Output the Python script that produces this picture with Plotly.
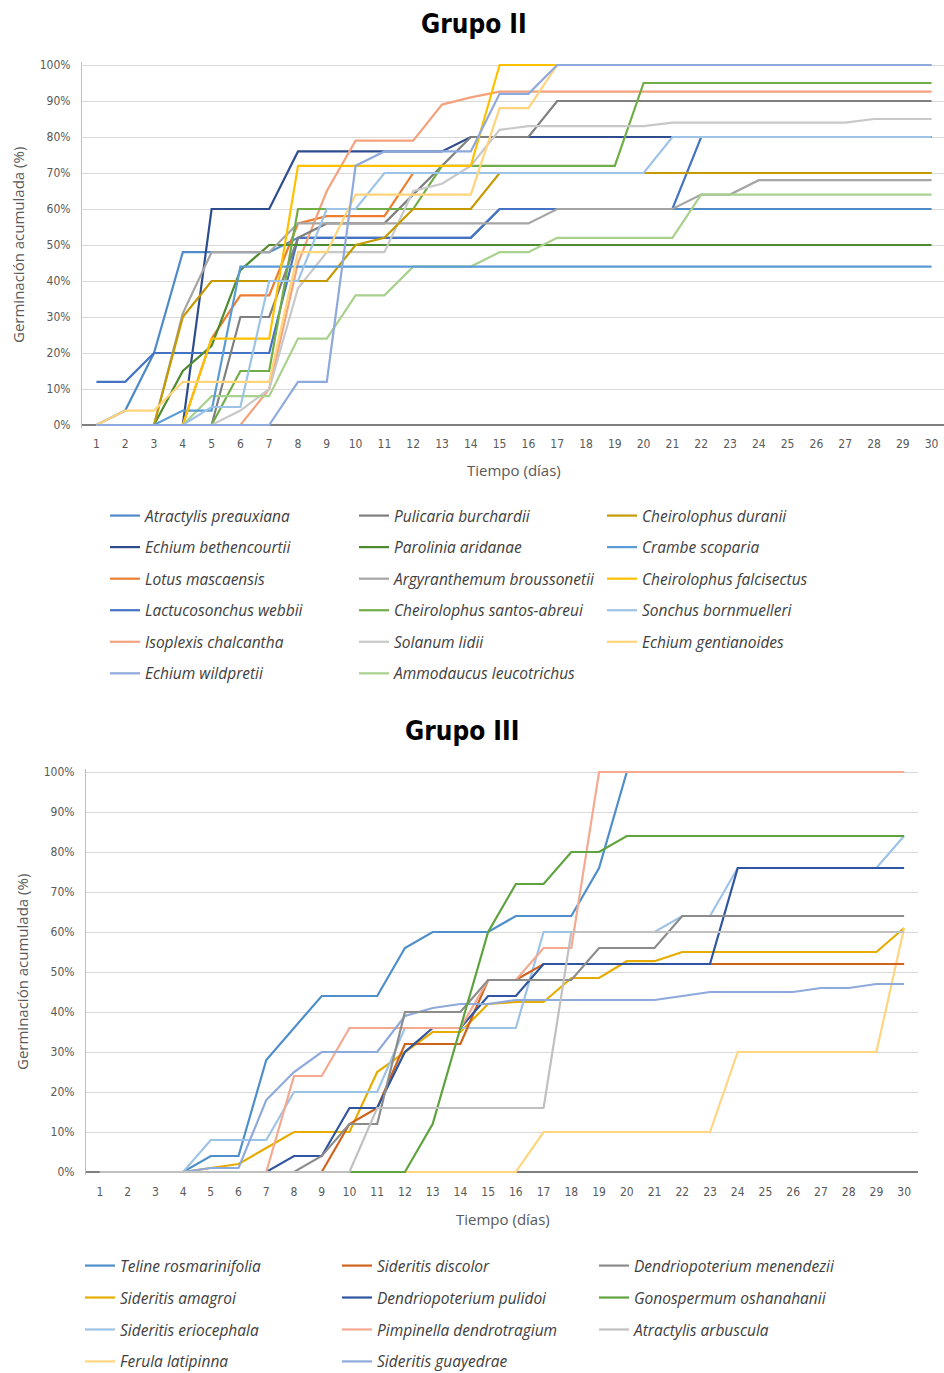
import plotly.graph_objects as go

W, H = 944, 1373
OFF = 0  # body margin removed via post_script
days = list(range(1, 31))

# ---------------- Grupo II data (% cumulative germination, days 1..30) ----------------
atractylis_preauxiana = [0,4,20,48,48,48,48,52,52,52,52,52,52,52,60] + [60]*15
echium_bethencourtii = [0,0,0,0,60,60,60,76,76,76,76,76,76,80] + [80]*16
lotus_mascaensis = [0,0,0,0,24,36,36,56,58,58,58] + [70]*19
lactucosonchus_webbii = [12,12,20,20,20,20,20,52,52,52,52,52,52,52,60,60,60,60,60,60,60] + [80]*9
isoplexis_chalcantha = [0,0,0,0,0,0,10,45,65,79,79,79,89,91] + [92.6]*16
echium_wildpretii = [0,0,0,0,0,0,0,12,12,72,76,76,76,76,92,92] + [100]*14
pulicaria_burchardii = [0,0,0,0,0,30,30,52,56,56,56,64,72,80,80,80] + [90]*14
parolinia_aridanae = [0,0,0,15,22,43,50] + [50]*23
argyranthemum_broussonetii = [0,0,0,31,48,48,48,56,56,56,56,56,56,56,56,56,60,60,60,60,60,64,64] + [68]*7
cheirolophus_santos_abreui = [0,0,0,0,0,15,15,60,60,60,60,60,72,72,72,72,72,72,72] + [95]*11
solanum_lidii = [0,0,0,0,0,4,10,38,48,48,48,65,67,72,82,83,83,83,83,83] + [84]*7 + [85]*3
ammodaucus_leucotrichus = [0,0,0,0,8,8,8,24,24,36,36,44,44,44,48,48,52,52,52,52,52] + [64]*9
cheirolophus_duranii = [0,0,0,30,40,40,40,40,40,50,52,60,60,60] + [70]*16
crambe_scoparia = [0,0,0,4,4] + [44]*25
cheirolophus_falcisectus = [0,0,0,0,24,24,24,72,72,72,72,72,72,72] + [100]*16
sonchus_bornmuelleri = [0,0,0,0,5,5,40,40,60,60] + [70]*10 + [80]*10
echium_gentianoides = [0,4,4,12,12,12,12,48,48,64,64,64,64,64,88,88] + [100]*14

g2_names = ["Atractylis preauxiana", "Echium bethencourtii", "Lotus mascaensis",
            "Lactucosonchus webbii", "Isoplexis chalcantha", "Echium wildpretii",
            "Pulicaria burchardii", "Parolinia aridanae", "Argyranthemum broussonetii",
            "Cheirolophus santos-abreui", "Solanum lidii", "Ammodaucus leucotrichus",
            "Cheirolophus duranii", "Crambe scoparia", "Cheirolophus falcisectus",
            "Sonchus bornmuelleri", "Echium gentianoides"]
g2_values = [atractylis_preauxiana, echium_bethencourtii, lotus_mascaensis,
             lactucosonchus_webbii, isoplexis_chalcantha, echium_wildpretii,
             pulicaria_burchardii, parolinia_aridanae, argyranthemum_broussonetii,
             cheirolophus_santos_abreui, solanum_lidii, ammodaucus_leucotrichus,
             cheirolophus_duranii, crambe_scoparia, cheirolophus_falcisectus,
             sonchus_bornmuelleri, echium_gentianoides]
g2_colors = ["#4F8BC9", "#2E4D8F", "#ED7D31", "#4472C4", "#F4A27E", "#8EA9DB",
             "#7F7F7F", "#4E8A2E", "#A5A5A5", "#70AD47", "#C8C8C8", "#A9D18E",
             "#C49A00", "#5B9BD5", "#FFC000", "#9DC3E6", "#FFD47A"]
g2_draw_order = [0, 1, 2, 3, 4, 6, 7, 8, 9, 10, 11, 12, 13, 14, 15, 16, 5]

# ---------------- Grupo III data ----------------
teline_rosmarinifolia = [0,0,0,0,4,4,28,36,44,44,44,56,60,60,60,64,64,64,76] + [100]*11
sideritis_amagroi = [0,0,0,0,1,2,6,10,10,10,25,30,35,35,42,42.5,42.5,48.5,48.5,52.7,52.7] + [55]*8 + [61]
sideritis_eriocephala = [0,0,0,0,8,8,8,20,20,20,20,36,36,36,36,36,60,60,60,60,60,64,64] + [76]*6 + [84]
ferula_latipinna = [0]*16 + [10]*7 + [30]*6 + [61]
sideritis_discolor = [0]*9 + [12,16,32,32,32,48,48] + [52]*14
dendriopoterium_pulidoi = [0,0,0,0,0,0,0,4,4,16,16,30,36,36,44,44] + [52]*7 + [76]*7
pimpinella_dendrotragium = [0]*7 + [24,24,36,36,36,36,36,48,48,56,56] + [100]*12
sideritis_guayedrae = [0,0,0,0,1,1,18,25,30,30,30,39,41,42,42,43,43,43,43,43,43,44,45,45,45,45,46,46,47,47]
dendriopoterium_menendezii = [0]*8 + [4,12,12,40,40,40,48,48,48,48,56,56,56] + [64]*9
gonospermum_oshanahanii = [0]*12 + [12,36,60,72,72,80,80] + [84]*11
atractylis_arbuscula = [0]*10 + [16]*7 + [60]*13

g3_names = ["Teline rosmarinifolia", "Sideritis amagroi", "Sideritis eriocephala",
            "Ferula latipinna", "Sideritis discolor", "Dendriopoterium pulidoi",
            "Pimpinella dendrotragium", "Sideritis guayedrae", "Dendriopoterium menendezii",
            "Gonospermum oshanahanii", "Atractylis arbuscula"]
g3_values = [teline_rosmarinifolia, sideritis_amagroi, sideritis_eriocephala,
             ferula_latipinna, sideritis_discolor, dendriopoterium_pulidoi,
             pimpinella_dendrotragium, sideritis_guayedrae, dendriopoterium_menendezii,
             gonospermum_oshanahanii, atractylis_arbuscula]
g3_colors = ["#4E8FCB", "#E6AC00", "#9DC3E6", "#FFD580", "#D0631B", "#2F55A0",
             "#F4A990", "#8EA9DB", "#8C8C8C", "#5FA33E", "#C0C0C0"]

y_ticks = list(range(0, 101, 10))
y_ticktext = [f"{v}%" for v in y_ticks]

TICKFONT = "DejaVu Sans Condensed, Open Sans, sans-serif"
TXTFONT = "Open Sans, DejaVu Sans, sans-serif"
TXT = "#595959"

fig = go.Figure()

for i in g2_draw_order:
    n, v, c = g2_names[i], g2_values[i], g2_colors[i]
    leg = ["legend", "legend2", "legend3"][i // 6]
    fig.add_trace(go.Scatter(x=days, y=v, name=n, mode="lines",
                             line=dict(color=c, width=2.2), legendrank=i + 1,
                             xaxis="x", yaxis="y", legend=leg, legendgroup=n))
for i, (n, v, c) in enumerate(zip(g3_names, g3_values, g3_colors)):
    leg = ["legend4", "legend5", "legend6"][i // 4]
    fig.add_trace(go.Scatter(x=days, y=v, name=n, mode="lines",
                             line=dict(color=c, width=2.2), legendrank=i + 1,
                             xaxis="x2", yaxis="y2", legend=leg, legendgroup=n))

def fx(x):  # screen x -> paper
    return min(max((x - OFF) / W, 0.0), 1.0)

def fy(y):  # screen y -> paper
    return min(max(1 - (y - OFF) / H, 0.0), 1.0)

PAD = 0.8  # extra range so lines at 0/100 are not clipped

def y_domain(y0, y100):
    ppu = (y0 - y100) / 100.0
    return [fy(y0 + PAD * ppu), fy(y100 - PAD * ppu)]

def x_range(left, right, spacing):
    return [0.5, 0.5 + (right - left) / spacing]

xax = dict(tickmode="array", tickvals=days, showgrid=False,
           showline=False, zeroline=False,
           ticks="outside", ticklen=5, tickcolor="rgba(0,0,0,0)",
           tickfont=dict(family=TICKFONT, size=12, color=TXT))
yax = dict(range=[-PAD, 100 + PAD], tickmode="array", tickvals=y_ticks, ticktext=y_ticktext,
           showgrid=True, gridcolor="#D9D9D9", gridwidth=1, showline=True,
           linecolor="#BFBFBF", linewidth=1,
           zeroline=True, zerolinecolor="#7F7F7F", zerolinewidth=2,
           ticks="outside", ticklen=8, tickcolor="rgba(0,0,0,0)",
           tickfont=dict(family=TICKFONT, size=12, color=TXT), layer="below traces")

legfont = dict(family=TXTFONT, size=15.5, color="#404040", style="italic")
def legend(x_text, ytop, gap):
    return dict(x=fx(x_text - 40), y=fy(ytop), xanchor="left", yanchor="top",
                bgcolor="rgba(0,0,0,0)", font=legfont, tracegroupgap=gap,
                orientation="v", itemwidth=30)

def ann(text, x, y, size, font=TXTFONT, color=TXT, angle=0):
    return dict(text=text, x=fx(x), y=fy(y), xref="paper", yref="paper",
                xanchor="center", yanchor="middle", showarrow=False, textangle=angle,
                font=dict(family=font, size=size, color=color))

fig.update_layout(
    width=W, height=H, margin=dict(l=0, r=0, t=0, b=0, autoexpand=False),
    paper_bgcolor="white", plot_bgcolor="white", showlegend=True,
    xaxis=dict(xax, domain=[fx(82), fx(944)], range=x_range(82, 944, 28.8), anchor="y"),
    yaxis=dict(yax, domain=y_domain(425, 65), anchor="x"),
    xaxis2=dict(xax, domain=[fx(86), fx(918)], range=x_range(86, 918, 27.733), anchor="y2"),
    yaxis2=dict(yax, domain=y_domain(1172, 772), anchor="x2"),
    legend=legend(145, 499, 8.4),
    legend2=legend(394, 499, 8.4),
    legend3=legend(642, 499, 8.4),
    legend4=legend(120, 1249, 8.8),
    legend5=legend(377, 1249, 8.8),
    legend6=legend(634, 1249, 8.8),
    annotations=[
        ann("<b>Grupo II</b>", 474, 24, 26, font=TICKFONT, color="#000000"),
        ann("<b>Grupo III</b>", 462, 731, 26, font=TICKFONT, color="#000000"),
        ann("Germinación acumulada (%)", 18, 245, 15, angle=-90),
        ann("Germinación acumulada (%)", 22, 972, 15, angle=-90),
        ann("Tiempo (días)", 514, 470, 15),
        ann("Tiempo (días)", 503, 1219, 15),
    ],
)

fig.write_html("out.html",
               config={"displayModeBar": False},
               post_script="document.body.style.margin='0';document.body.style.overflow='hidden';")
